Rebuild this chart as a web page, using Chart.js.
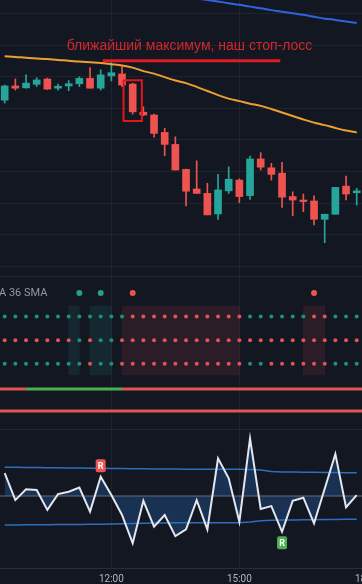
<!DOCTYPE html>
<html>
<head>
<meta charset="utf-8">
<title>stop-loss</title>
<script src="https://cdn.jsdelivr.net/npm/chart.js@4.4.1/dist/chart.umd.min.js"></script>
<style>
  html, body { margin: 0; padding: 0; background: #131722; }
  #wrap { position: relative; width: 362px; height: 584px; overflow: hidden; background: #131722; }
  canvas { position: absolute; left: 0; }
  #c1 { top: 0; }
  #c2 { top: 277px; }
  #c3 { top: 430px; }
  .sep { position: absolute; left: 0; width: 362px; height: 1px; background: #232733; }
</style>
</head>
<body>
<div id="wrap">
  <canvas id="c1" width="400" height="276"></canvas>
  <div class="sep" style="top:276px"></div>
  <canvas id="c2" width="400" height="152"></canvas>
  <div class="sep" style="top:429px"></div>
  <canvas id="c3" width="400" height="154"></canvas>
</div>
<script>
// 15 minute bars, bar 10 = 12:00
const tickBars = [10, 22, 34];
const tickLabels = ['12:00', '15:00', '18:00'];

const opens  = [162.6,167.1,166.5,167.6,169.3,166.4,167.1,167.8,169.5,166.4,170.3,170.9,167.7,158.8,157.9,152.4,148.6,140.7,134.5,133.1,126.6,133.9,137.3,132.4,144.0,141.2,139.5,132.1,131.0,130.7,124.9,126.5,135.4,133.3];
const highs  = [167.4,169.3,170.6,169.7,169.6,167.7,168.8,170.0,172.9,172.2,174.7,173.2,168.0,160.5,158.2,153.7,151.0,140.8,143.4,136.3,139.1,141.5,137.7,144.9,146.0,142.6,142.9,133.6,132.9,132.3,126.5,135.0,138.6,134.7];
const lows   = [161.7,165.8,166.4,166.9,166.0,165.8,165.6,166.9,166.4,165.8,168.7,166.9,158.2,157.7,150.9,145.0,140.5,129.1,133.1,126.3,124.9,133.1,130.2,131.2,140.5,137.3,128.7,126.0,127.3,123.1,117.5,126.5,131.0,129.4];
const closes = [167.1,166.4,168.0,169.0,166.1,167.0,167.8,169.5,166.4,170.6,171.3,167.4,158.9,157.9,152.1,148.6,140.5,133.8,133.1,126.3,134.2,137.6,132.1,144.0,141.4,139.1,131.9,131.0,130.5,124.9,126.5,135.0,132.9,133.9];

const smaFast = [176.5,176.3,176.0,175.8,175.6,175.3,175.1,174.8,174.6,174.4,174.0,173.6,172.9,171.8,171.0,169.9,168.8,168.0,166.8,165.5,164.2,163.1,162.3,161.5,160.8,159.8,158.7,157.6,156.5,155.5,154.7,153.8,153.0,152.4];
const smaSlow = [null,null,null,null,null,null,null,null,null,null,null,null,null,null,null,null,null,195.4,194.8,194.3,193.8,193.3,192.8,192.2,191.7,191.1,190.6,190.1,189.6,189.0,188.4,188.0,187.5,187.0];
const priceGrid = [110,120,130,140,150,160,170,180,190];

// stop-loss note
const noteText = 'ближайший максимум, наш стоп-лосс';
const stopLevel = 175.1;
const stopFrom = 9.19, stopTo = 25.84;
const boxBar = 12;

// signal panel: 1 = green, -1 = red
const signals = [0,0,0,0,0,0,0,1,0,1,0,0,-1,0,0,0,0,0,0,0,0,0,0,0,0,0,0,0,0,-1,0,0,0,0];
const rowA = [1,1,1,1,1,1,1,1,1,1,1,1,-1,-1,-1,-1,-1,-1,-1,-1,-1,-1,-1,1,1,1,1,1,1,-1,-1,1,1,1];
const rowB = [-1,-1,-1,-1,-1,-1,-1,1,-1,1,1,-1,-1,-1,-1,-1,-1,-1,-1,-1,-1,-1,-1,-1,-1,-1,-1,-1,-1,-1,-1,-1,-1,-1];
const rowC = [1,1,1,1,1,1,1,1,-1,1,1,-1,-1,-1,-1,-1,-1,-1,-1,-1,-1,-1,-1,1,1,-1,-1,-1,-1,-1,-1,1,1,1];
const zones = [0,0,0,0,0,0,0,1,0,1,1,0,-1,-1,-1,-1,-1,-1,-1,-1,-1,-1,-1,0,0,0,0,0,0,-1,-1,0,0,0];
const trend = [-1,-1,1,1,1,1,1,1,1,1,1,-1,-1,-1,-1,-1,-1,-1,-1,-1,-1,-1,-1,-1,-1,-1,-1,-1,-1,-1,-1,-1,-1,-1];

// oscillator
const rsi = [59.5,48.3,52.8,52.5,44.2,50.8,51.8,53.5,43.5,58.0,50.4,42.1,30.3,48.0,37.2,42.1,33.3,36.1,48.3,36.1,65.7,57.4,39.3,74.0,44.6,45.8,35.1,48.0,49.3,38.6,53.0,67.5,45.3,50.4];
const rsiUpper = [62.0,62.0,61.9,61.9,61.8,61.8,61.7,61.7,61.6,61.6,61.5,61.5,61.4,61.4,61.3,61.3,61.2,61.1,61.1,61.1,61.1,61.1,61.1,61.0,60.8,60.2,60.0,60.0,59.9,59.9,59.8,59.8,59.7,59.7];
const rsiLower = [37.9,37.9,38.0,38.0,38.0,38.1,38.1,38.1,38.2,38.2,38.3,38.4,38.5,38.6,38.7,38.8,38.9,38.9,38.9,38.9,38.9,38.9,38.9,39.2,39.7,39.9,40.0,40.0,40.1,40.1,40.2,40.2,40.3,40.3];
const rsiMid = 50;
const rsiSignalBars = [9, 26];
const rsiSignalSide = ['sell', 'buy'];

// ---- look ----
const up = '#26a69a', down = '#ef5350';
const gridColor = 'rgba(255,255,255,0.055)';
const barPx = 10.667;
const xMin = -0.44;
const xMax = xMin + 400 / barPx;
const lv = { signal: 6, rowA: 5, rowB: 4, rowC: 3, trend: 1.93, stop: 1, zoneLo: 2.53, zoneHi: 5.45 };

const barIdx = opens.map((_, i) => i);
const spanIdx = [-1, ...barIdx, opens.length];
const candleColor = barIdx.map(i => closes[i] >= opens[i] ? up : down);

function timeAxis(labels) {
  return {
    type: 'linear', min: xMin, max: xMax, offset: false,
    border: { display: labels, color: '#2a2e39' },
    grid: { color: gridColor, drawTicks: false, offset: false },
    ticks: {
      display: labels, padding: 5, color: '#b2b5be', maxRotation: 0, autoSkip: false,
      font: { family: 'Roboto', size: 10 },
      callback: v => { const k = tickBars.indexOf(v); return k < 0 ? '' : tickLabels[k]; }
    },
    afterBuildTicks: s => { s.ticks = tickBars.map(v => ({ value: v })); },
    afterFit: s => { s.height = labels ? 16 : 0; }
  };
}
const base = {
  responsive: false, animation: false, events: [],
  layout: { padding: 0, autoPadding: false },
  plugins: { legend: { display: false }, tooltip: { enabled: false } }
};

// ---- price pane ----
const notePlugin = {
  id: 'note',
  afterDatasetsDraw(chart) {
    const { ctx, scales: { x, y } } = chart;
    ctx.save();
    ctx.font = '14px "Liberation Sans", Arial, sans-serif';
    ctx.fillStyle = '#d3272b';
    ctx.textAlign = 'left';
    ctx.textBaseline = 'alphabetic';
    ctx.fillText(noteText, x.getPixelForValue(5.81), y.getPixelForValue(stopLevel + 3.5));
    ctx.restore();
  }
};
const bx0 = boxBar - 0.86, bx1 = boxBar + 0.86;
const by0 = highs[boxBar] + 0.9, by1 = lows[boxBar] - 2.2;

new Chart(document.getElementById('c1'), {
  type: 'bar',
  data: {
    datasets: [
      { type: 'line', data: barIdx.map(i => ({ x: i, y: smaFast[i] })), borderColor: '#eda032', borderWidth: 2, pointRadius: 0, tension: 0.35, order: 0 },
      { type: 'line', data: barIdx.map(i => ({ x: i, y: smaSlow[i] })), borderColor: '#2f63e0', borderWidth: 2, pointRadius: 0, tension: 0.3, order: 0 },
      { type: 'line', data: [{ x: stopFrom, y: stopLevel }, { x: stopTo, y: stopLevel }], borderColor: '#e01b22', borderWidth: 3, pointRadius: 0, order: 0 },
      { type: 'line', data: [{ x: bx0, y: by0 }, { x: bx1, y: by0 }, { x: bx1, y: by1 }, { x: bx0, y: by1 }, { x: bx0, y: by0 }],
        borderColor: '#e0161b', borderWidth: 2, pointRadius: 0, tension: 0, borderJoinStyle: 'miter', order: 0 },
      { type: 'bar', data: barIdx.map(i => ({ x: i, y: [opens[i], closes[i]] })), backgroundColor: candleColor, borderWidth: 0, barThickness: 7, grouped: false, order: 1 },
      { type: 'bar', data: barIdx.map(i => ({ x: i, y: [lows[i], highs[i]] })), backgroundColor: candleColor, borderWidth: 0, barThickness: 1, grouped: false, order: 2 }
    ]
  },
  options: {
    ...base,
    scales: {
      x: timeAxis(false),
      y: {
        type: 'linear', min: 106.96, max: 194.3, position: 'left',
        border: { display: false }, grid: { color: gridColor, drawTicks: false },
        ticks: { display: false },
        afterBuildTicks: s => { s.ticks = priceGrid.map(v => ({ value: v })); },
        afterFit: s => { s.width = 0; }
      }
    }
  },
  plugins: [notePlugin]
});

// ---- signal pane ----
const dotGreen = '#21907a', dotRed = '#df5555';
const zoneRuns = [];
zones.forEach((z, i) => {
  if (z === 0) return;
  const last = zoneRuns[zoneRuns.length - 1];
  if (last && last.z === z && last.end === i - 1) last.end = i;
  else zoneRuns.push({ z, start: i, end: i });
});
const zoneSets = zoneRuns.map(r => ({
  type: 'bar',
  data: [{ x: (r.start + r.end) / 2 - 0.5, y: [lv.zoneLo, lv.zoneHi] }],
  backgroundColor: r.z > 0 ? 'rgba(38,166,154,0.12)' : 'rgba(239,83,80,0.11)',
  borderWidth: 0, barThickness: (r.end - r.start + 1) * barPx, grouped: false, order: 5
}));
function dotRow(states, level) {
  return {
    type: 'line', showLine: false, order: 1,
    data: barIdx.map(i => ({ x: i, y: level })),
    pointRadius: 2, pointBorderWidth: 0,
    pointBackgroundColor: states.map(s => s > 0 ? dotGreen : dotRed)
  };
}
const sigIdx = barIdx.filter(i => signals[i] !== 0);
const trendState = b => trend[Math.min(Math.max(b, 0), trend.length - 1)];
const legendPlugin = {
  id: 'paneLegend',
  afterDatasetsDraw(chart) {
    const { ctx, scales: { y } } = chart;
    ctx.save();
    ctx.font = '11px Roboto, sans-serif';
    ctx.fillStyle = '#9598a1';
    ctx.textAlign = 'left';
    ctx.textBaseline = 'middle';
    ctx.fillText('A 36 SMA', -1, y.getPixelForValue(lv.signal));
    ctx.restore();
  }
};

new Chart(document.getElementById('c2'), {
  type: 'bar',
  data: {
    datasets: [
      ...zoneSets,
      { type: 'line', showLine: false, order: 1, data: sigIdx.map(i => ({ x: i, y: lv.signal })),
        pointRadius: 3, pointBorderWidth: 0, pointBackgroundColor: sigIdx.map(i => signals[i] > 0 ? '#22a184' : '#ef5350') },
      dotRow(rowA, lv.rowA),
      dotRow(rowB, lv.rowB),
      dotRow(rowC, lv.rowC),
      { type: 'line', order: 2, data: spanIdx.map(i => ({ x: i, y: lv.trend })), borderWidth: 3, pointRadius: 0,
        borderColor: '#df5555', segment: { borderColor: c => trendState(spanIdx[c.p0DataIndex]) > 0 ? '#4caf50' : '#df5555' } },
      { type: 'line', order: 2, data: spanIdx.map(i => ({ x: i, y: lv.stop })), borderWidth: 3, pointRadius: 0, borderColor: '#df5555' }
    ]
  },
  options: {
    ...base,
    scales: {
      x: timeAxis(false),
      y: { type: 'linear', min: 0.237, max: 6.678, display: false }
    }
  },
  plugins: [legendPlugin]
});

// ---- oscillator pane ----
const markPlugin = {
  id: 'rsiMarks',
  afterDatasetsDraw(chart) {
    const { ctx, scales: { x, y } } = chart;
    ctx.save();
    rsiSignalBars.forEach((b, k) => {
      const sell = rsiSignalSide[k] === 'sell';
      const px = x.getPixelForValue(b);
      const py = y.getPixelForValue(rsi[b]) + (sell ? -11 : 11);
      ctx.fillStyle = sell ? '#f05350' : '#4caf50';
      ctx.beginPath();
      ctx.roundRect(px - 5, py - 6.5, 10, 13, 2);
      ctx.fill();
      ctx.fillStyle = '#ffffff';
      ctx.font = 'bold 9px Roboto, sans-serif';
      ctx.textAlign = 'center';
      ctx.textBaseline = 'middle';
      ctx.fillText('R', px, py + 0.5);
    });
    ctx.restore();
  }
};

new Chart(document.getElementById('c3'), {
  type: 'line',
  data: {
    datasets: [
      { data: barIdx.map(i => ({ x: i, y: rsi[i] })), borderColor: '#e4e7ee', borderWidth: 2, pointRadius: 0,
        fill: { value: rsiMid }, backgroundColor: 'rgba(41,110,200,0.30)', order: 0 },
      { data: barIdx.map(i => ({ x: i, y: rsiUpper[i] })), borderColor: '#2c6fbd', borderWidth: 1.5, pointRadius: 0, order: 1 },
      { data: barIdx.map(i => ({ x: i, y: rsiLower[i] })), borderColor: '#2c6fbd', borderWidth: 1.5, pointRadius: 0, order: 1 },
      { data: spanIdx.map(i => ({ x: i, y: rsiMid })), borderColor: '#6b6f7b', borderWidth: 1, pointRadius: 0, order: 2 }
    ]
  },
  options: {
    ...base,
    plugins: { ...base.plugins, filler: { drawTime: 'beforeDatasetsDraw' } },
    scales: {
      x: timeAxis(true),
      y: { type: 'linear', min: 20, max: 77.5, display: false }
    }
  },
  plugins: [markPlugin]
});
</script>
</body>
</html>
